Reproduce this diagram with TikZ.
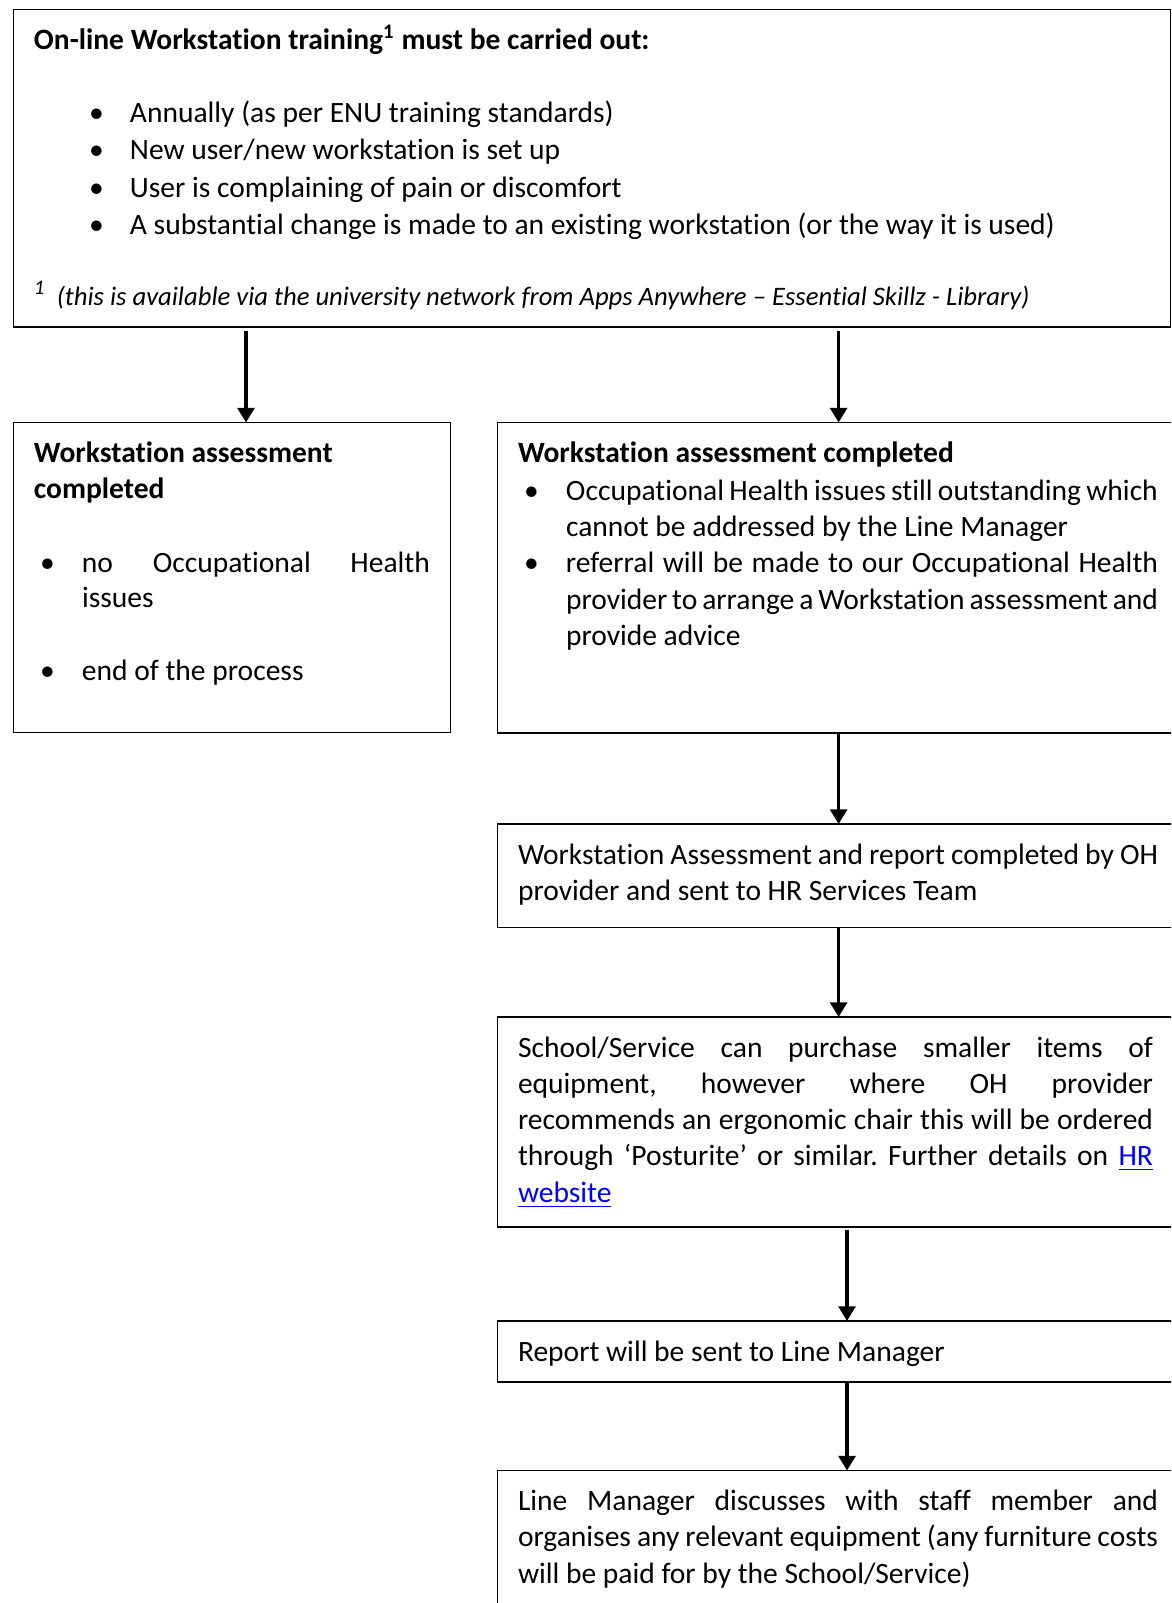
\documentclass[tikz,border=0pt]{standalone}
\usepackage{fontspec}
\setmainfont{Carlito}[Ligatures={TeX,NoCommon}]
\usetikzlibrary{arrows.meta}
\definecolor{hrlink}{HTML}{0000FF}
\newdimen\px \px=0.3675pt
\newdimen\bulletat \newdimen\textat
% bullet paragraph with hanging indent
\newcommand{\bpoint}[1]{\par\noindent\hangindent=\textat\hangafter=1
  \hbox to\textat{\hskip\bulletat\textbullet\hfil}#1}
\newcommand{\boxbody}[3]{\parbox[c][#1\px][t]{#2\px}{\frenchspacing\tolerance=9999 \hyphenpenalty=10000 \exhyphenpenalty=10000 #3}}
\newcommand{\firstline}{\rule{0pt}{40\px}}

\begin{document}
\begin{tikzpicture}[x=\px, y=-\px,
    flowbox/.style={rectangle, draw, line width=0.7pt, anchor=north west,
                    inner xsep=20.5\px, inner ysep=0pt, outer sep=0pt,
                    font=\fontsize{10.85pt}{36.3\px}\selectfont},
    flow/.style={-{Triangle[width=6.2pt, length=5.4pt]}, line width=1.2pt}
  ]
    \path[use as bounding box, fill=white] (0,0) rectangle (1171,1603);
    \clip (0,0) rectangle (1171,1603);

    % Training box
    \node[flowbox] (training) at (13.5,9.5) {\boxbody{317.5}{1116}{%
      \firstline\textbf{On-line Workstation training\textsuperscript{1} must be carried out:}\par
      \vspace{35\px}
      \bulletat=55\px \textat=96\px \baselineskip=37.5\px
      \bpoint{Annually (as per ENU training standards)}
      \bpoint{New user/new workstation is set up}
      \bpoint{User is complaining of pain or discomfort}
      \bpoint{A substantial change is made to an existing workstation (or the way it is used)}\par
      \vspace{33\px}
      \noindent\textit{\textsuperscript{1}\hspace{11\px}{\fontsize{9.8pt}{12pt}\selectfont(this is available via the university network from Apps Anywhere – Essential Skillz - Library)}}}};

    % Assessment outcomes
    \node[flowbox] (noOH) at (13.5,422.5) {\boxbody{310}{396}{%
      \baselineskip=35.8\px
      \noindent\firstline\textbf{Workstation assessment\newline completed}\par
      \vspace{38\px}
      \bulletat=6\px \textat=48\px
      \bpoint{no Occupational Health issues}\par
      \vspace{37\px}
      \bpoint{end of the process}}};
    \node[flowbox] (referral) at (497.5,422.5) {\boxbody{310.5}{640}{%
      \noindent\firstline\textbf{Workstation assessment completed}\par
      \vspace{1.5\px}
      \bulletat=6\px \textat=48\px
      \bpoint{Occupational Health issues still outstanding which\linebreak cannot be addressed by the Line Manager}
      \bpoint{referral will be made to our Occupational Health\linebreak {\spaceskip=0.12em plus 1em minus 0.05em provider to arrange a Workstation assessment and}\linebreak provide advice}}};

    % OH provider steps
    \node[flowbox] (report) at (497.5,824) {\boxbody{103.5}{640}{%
      \noindent\firstline Workstation Assessment and report completed by OH\linebreak provider and sent to HR Services Team}};
    \node[flowbox] (purchase) at (497.5,1017) {\boxbody{210}{635}{%
      \noindent\firstline School/Service can purchase smaller items of\linebreak equipment, however where OH provider\linebreak recommends an ergonomic chair this will be ordered\linebreak through ‘Posturite’ or similar. Further details on \textcolor{hrlink}{\underline{HR}\linebreak \underline{website}}}};
    \node[flowbox] (sent) at (497.5,1321) {\boxbody{61}{640}{%
      \noindent\firstline Report will be sent to Line Manager}};
    \node[flowbox] (discuss) at (497.5,1470.5) {\boxbody{150}{640}{%
      \noindent\firstline Line Manager discusses with staff member and\linebreak organises any relevant equipment (any furniture costs\linebreak will be paid for by the School/Service)}};

    % Arrow columns
    \coordinate (leftcol) at (246,0);
    \coordinate (midcol) at (838.6,0);
    \coordinate (lowcol) at (847,0);

    % Arrows
    \draw[flow, shorten <=1.5pt] (training.south -| leftcol) -- (noOH.north -| leftcol);
    \draw[flow, shorten <=1.5pt] (training.south -| midcol) -- (referral.north -| midcol);
    \draw[flow] (referral.south -| midcol) -- (report.north -| midcol);
    \draw[flow] (report.south -| midcol) -- (purchase.north -| midcol);
    \draw[flow, shorten <=1pt] (purchase.south -| lowcol) -- (sent.north -| lowcol);
    \draw[flow] (sent.south -| lowcol) -- (discuss.north -| lowcol);
\end{tikzpicture}
\end{document}
